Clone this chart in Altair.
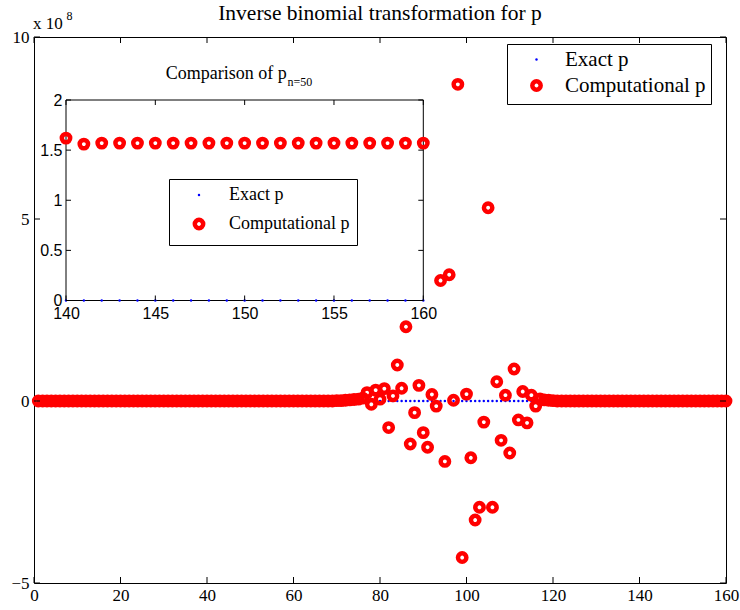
import altair as alt
import pandas as pd

# ---------------- texts ----------------
title_text = "Inverse binomial transformation for p"
inset_title_text = "Comparison of p"
inset_title_sub = "n=50"
exponent_base = "x 10"
exponent_power = "8"
series_names = ["Exact p", "Computational p"]

# ---------------- main panel data (values in units of 1e8) ----------------
main_x = list(range(1, 161))
main_exact = [
    0, 0, 0, 0, 0, 0, 0, 0, 0, 0,
    0, 0, 0, 0, 0, 0, 0, 0, 0, 0,
    0, 0, 0, 0, 0, 0, 0, 0, 0, 0,
    0, 0, 0, 0, 0, 0, 0, 0, 0, 0,
    0, 0, 0, 0, 0, 0, 0, 0, 0, 0,
    0, 0, 0, 0, 0, 0, 0, 0, 0, 0,
    0, 0, 0, 0, 0, 0, 0, 0, 0, 0,
    0, 0, 0, 0, 0, 0, 0, 0, 0, 0,
    0, 0, 0, 0, 0, 0, 0, 0, 0, 0,
    0, 0, 0, 0, 0, 0, 0, 0, 0, 0,
    0, 0, 0, 0, 0, 0, 0, 0, 0, 0,
    0, 0, 0, 0, 0, 0, 0, 0, 0, 0,
    0, 0, 0, 0, 0, 0, 0, 0, 0, 0,
    0, 0, 0, 0, 0, 0, 0, 0, 0, 0,
    0, 0, 0, 0, 0, 0, 0, 0, 0, 0,
    0, 0, 0, 0, 0, 0, 0, 0, 0, 0,
]
main_comp = [
    # 1-10
    0, 0, 0, 0, 0, 0, 0, 0, 0, 0,
    # 11-20
    0, 0, 0, 0, 0, 0, 0, 0, 0, 0,
    # 21-30
    0, 0, 0, 0, 0, 0, 0, 0, 0, 0,
    # 31-40
    0, 0, 0, 0, 0, 0, 0, 0, 0, 0,
    # 41-50
    0, 0, 0, 0, 0, 0, 0, 0, 0, 0,
    # 51-60
    0, 0, 0, 0, 0, 0, 0, 0, 0, 0,
    # 61-70
    0, 0, 0, 0, 0, 0, 0, 0, 0, 0.01,
    # 71-80
    0.01, 0.02, 0.03, 0.04, 0.05, 0.08, 0.23, -0.09, 0.30, 0.05,
    # 81-90
    0.34, -0.73, 0.14, 0.99, 0.35, 2.04, -1.18, -0.32, 0.43, -0.87,
    # 91-100
    -1.27, 0.18, -0.14, 3.31, -1.66, 3.47, 0.02, 8.70, -4.30, 0.19,
    # 101-110
    -1.56, -3.27, -2.92, -0.58, 5.31, -2.92, 0.53, -1.08, 0.16, -1.43,
    # 111-120
    0.88, -0.52, 0.26, -0.60, 0.16, -0.14, 0.06, 0.03, 0.02, 0.01,
    # 121-130
    0, 0, 0, 0, 0, 0, 0, 0, 0, 0,
    # 131-140
    0, 0, 0, 0, 0, 0, 0, 0, 0, 0,
    # 141-150
    0, 0, 0, 0, 0, 0, 0, 0, 0, 0,
    # 151-160
    0, 0, 0, 0, 0, 0, 0, 0, 0, 0,
]

# ---------------- inset data ----------------
inset_x = list(range(140, 161))
inset_exact = [0, 0, 0, 0, 0, 0, 0, 0, 0, 0, 0, 0, 0, 0, 0, 0, 0, 0, 0, 0, 0]
inset_comp = [1.62, 1.56, 1.57, 1.57, 1.57, 1.57, 1.57, 1.57, 1.57, 1.57, 1.57,
              1.57, 1.57, 1.57, 1.57, 1.57, 1.57, 1.57, 1.57, 1.57, 1.57]

# ---------------- tick values ----------------
main_xticks = [0, 20, 40, 60, 80, 100, 120, 140, 160]
main_yticks = [-5, 0, 5, 10]
inset_xticks = [140, 145, 150, 155, 160]
inset_yticks = [0, 0.5, 1, 1.5, 2]
main_xdomain = [0, 160]
main_ydomain = [-5, 10]
inset_xdomain = [140, 160]
inset_ydomain = [0, 2]

# ---------------- layout (pixels) ----------------
W, H = 692, 546
PAD_L, PAD_T = 34, 37
IN_L, IN_R = 32, 389.3
IN_T, IN_B = 63, 263.5
TICK = 6
ITICK = 5
RING = 4.5
SERIF = "Liberation Serif"
SANS = "Liberation Sans"
RED = "#ff0000"
BLUE = "#0000ff"
NONE = "transparent"

main_df = pd.DataFrame({
    "x": main_x + main_x,
    "y": main_exact + main_comp,
    "series": [series_names[0]] * len(main_x) + [series_names[1]] * len(main_x),
})
inset_df = pd.DataFrame({
    "x": inset_x + inset_x,
    "y": inset_exact + inset_comp,
    "series": [series_names[0]] * len(inset_x) + [series_names[1]] * len(inset_x),
})

# ---------------- scales & axes ----------------
xs_main = alt.Scale(domain=main_xdomain, nice=False, zero=False)
ys_main = alt.Scale(domain=main_ydomain, nice=False, zero=False)
xs_in = alt.Scale(domain=inset_xdomain, range=[IN_L, IN_R], nice=False, zero=False)
ys_in = alt.Scale(domain=inset_ydomain, range=[IN_B, IN_T], nice=False, zero=False)

main_x_axis = alt.Axis(orient="bottom", values=main_xticks, title=None, domain=False,
                       ticks=False, grid=False, labelFont=SERIF, labelFontSize=17,
                       labelColor="black", labelPadding=4, labelFlush=False,
                       labelOverlap=False, format="d")
main_y_axis = alt.Axis(orient="left", values=main_yticks, title=None, domain=False,
                       ticks=False, grid=False, labelFont=SERIF, labelFontSize=17,
                       labelColor="black", labelPadding=5, labelFlush=False,
                       labelOverlap=False, format="d")
inset_x_axis = alt.Axis(orient="bottom", offset=-(H - IN_B), values=inset_xticks,
                        title=None, domain=False, ticks=False, grid=False,
                        labelFont=SANS, labelFontSize=16, labelColor="black",
                        labelPadding=5, labelFlush=False, labelOverlap=False, format="d")
inset_y_axis = alt.Axis(orient="left", offset=-IN_L, values=inset_yticks,
                        title=None, domain=False, ticks=False, grid=False,
                        labelFont=SANS, labelFontSize=16, labelColor="black",
                        labelPadding=4, labelFlush=False, labelOverlap=False, format="~g")

# exact p: small filled blue dot; computational p: thick red ring
fill_scale = alt.Scale(domain=series_names, range=[BLUE, NONE])
stroke_scale = alt.Scale(domain=series_names, range=[NONE, RED])
size_scale = alt.Scale(type="point", padding=0, domain=series_names, range=[6, 70])


def make_legend(lx, ly, fs, pad, rowpad, symoff, laboff):
    return alt.Legend(orient="none", legendX=lx, legendY=ly, title=None, padding=pad,
                      strokeColor="black", fillColor="white", labelFont=SERIF,
                      labelFontSize=fs, labelColor="black", rowPadding=rowpad,
                      symbolOffset=symoff, labelOffset=laboff, cornerRadius=0,
                      symbolType="circle", symbolStrokeWidth=RING, labelLimit=400)


main_legend = make_legend(473, 7, 21, 5, 2, 14, 18)
inset_legend = make_legend(135, 142, 18, 7, 4, 14, 21)


def points(df, xs, ys, xa, ya, legend):
    return alt.Chart(df).mark_point(shape="circle", strokeWidth=RING, opacity=1).encode(
        x=alt.X("x:Q", scale=xs, axis=xa),
        y=alt.Y("y:Q", scale=ys, axis=ya),
        fill=alt.Fill("series:N", scale=fill_scale, legend=legend),
        stroke=alt.Stroke("series:N", scale=stroke_scale, legend=legend),
        size=alt.Size("series:N", scale=size_scale, legend=legend),
    )


def xticks(vals, xs, xa, y0, y1):
    return alt.Chart(pd.DataFrame({"x": vals})).mark_rule(color="black", strokeWidth=1).encode(
        x=alt.X("x:Q", scale=xs, axis=xa), y=alt.value(y0), y2=alt.value(y1))


def yticks(vals, ys, ya, x0, x1):
    return alt.Chart(pd.DataFrame({"y": vals})).mark_rule(color="black", strokeWidth=1).encode(
        y=alt.Y("y:Q", scale=ys, axis=ya), x=alt.value(x0), x2=alt.value(x1))


def label(text, x, y, size, align, font=SERIF):
    return alt.Chart(pd.DataFrame({"t": [text]})).mark_text(
        font=font, fontSize=size, align=align, baseline="alphabetic", color="black"
    ).encode(text="t:N", x=alt.value(x), y=alt.value(y))


main_layer = alt.layer(
    points(main_df, xs_main, ys_main, main_x_axis, main_y_axis, main_legend),
    xticks(main_xticks, xs_main, main_x_axis, H, H - TICK),
    xticks(main_xticks, xs_main, main_x_axis, 0, TICK),
    yticks(main_yticks, ys_main, main_y_axis, 0, TICK),
    yticks(main_yticks, ys_main, main_y_axis, W, W - TICK),
    label(title_text, W / 2, -17, 21.5, "center"),
    label(exponent_base, -1, -8, 17, "left"),
    label(exponent_power, 32.5, -17, 12, "left"),
)

frame = alt.Chart(pd.DataFrame({"x0": [inset_xdomain[0]], "x1": [inset_xdomain[1]],
                                "y0": [inset_ydomain[0]], "y1": [inset_ydomain[1]]})
                  ).mark_rect(fill="white", stroke="black", strokeWidth=1).encode(
    x=alt.X("x0:Q", scale=xs_in, axis=inset_x_axis), x2="x1:Q",
    y=alt.Y("y0:Q", scale=ys_in, axis=inset_y_axis), y2="y1:Q",
)

inset_layer = alt.layer(
    frame,
    points(inset_df, xs_in, ys_in, inset_x_axis, inset_y_axis, inset_legend),
    xticks(inset_xticks, xs_in, inset_x_axis, IN_B, IN_B - ITICK),
    xticks(inset_xticks, xs_in, inset_x_axis, IN_T, IN_T + ITICK),
    yticks(inset_yticks, ys_in, inset_y_axis, IN_L, IN_L + ITICK),
    yticks(inset_yticks, ys_in, inset_y_axis, IN_R, IN_R - ITICK),
    label(inset_title_text, 252.7, 42.3, 18, "right"),
    label(inset_title_sub, 253.5, 49, 12, "left"),
)

chart = alt.layer(main_layer, inset_layer).resolve_scale(
    x="independent", y="independent", fill="independent",
    stroke="independent", size="independent",
).properties(
    width=W, height=H,
    autosize=alt.AutoSizeParams(type="none"),
    padding={"left": PAD_L, "top": PAD_T, "right": 740 - PAD_L - W, "bottom": 610 - PAD_T - H},
    background="white",
).configure_view(stroke="black", strokeWidth=1)

chart.save("out.html", embed_options={"renderer": "svg", "actions": False})
